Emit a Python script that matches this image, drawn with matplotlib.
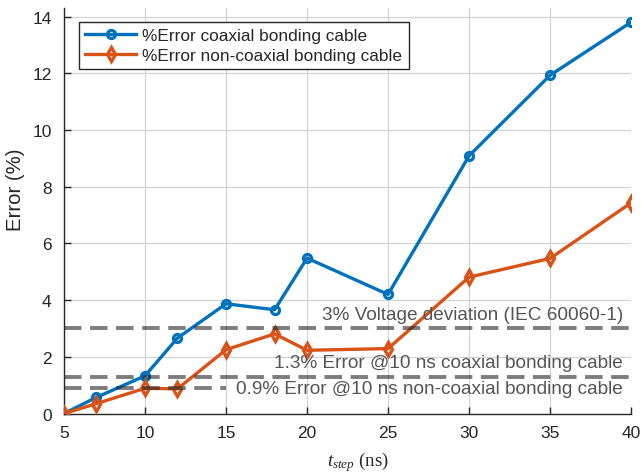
import matplotlib
matplotlib.use("Agg")
import matplotlib.pyplot as plt

# Time step (ns) and percentage error for both cable configurations
t_step = [5, 7, 10, 12, 15, 18, 20, 25, 30, 35, 40]
err_coaxial = [0.0, 0.57, 1.33, 2.66, 3.87, 3.66, 5.48, 4.20, 9.09, 11.93, 13.80]
err_noncoaxial = [0.0, 0.35, 0.89, 0.87, 2.25, 2.81, 2.23, 2.29, 4.81, 5.47, 7.43]

# Reference thresholds and their labels
ref_levels = [3.0, 1.3, 0.9]
ref_labels = [
    "3% Voltage deviation (IEC 60060-1)",
    "1.3% Error @10 ns coaxial bonding cable",
    "0.9% Error @10 ns non-coaxial bonding cable",
]
series_labels = ["%Error coaxial bonding cable", "%Error non-coaxial bonding cable"]
x_ticks = [5, 10, 15, 20, 25, 30, 35, 40]
y_ticks = [0, 2, 4, 6, 8, 10, 12, 14]

BLUE = "#0072BD"
ORANGE = "#D95319"
AXC = "#262626"
REFC = "#262626"

plt.rcParams["font.family"] = ["Liberation Sans", "DejaVu Sans"]
plt.rcParams["mathtext.fontset"] = "custom"
plt.rcParams["mathtext.rm"] = "Liberation Serif"
plt.rcParams["mathtext.it"] = "Liberation Serif:italic"

fig = plt.figure(figsize=(6.42, 4.77), dpi=100)
ax = fig.add_axes([0.0997, 0.131, 0.8833, 0.850])

ax.plot(t_step, err_coaxial, color=BLUE, lw=2.4, marker="o", ms=5.8,
        mfc="none", mec=BLUE, mew=2.3, label=series_labels[0], zorder=3)
ax.plot(t_step, err_noncoaxial, color=ORANGE, lw=2.4, marker="d", ms=7.2,
        mfc="none", mec=ORANGE, mew=2.4, label=series_labels[1], zorder=3)

xmin, xmax = 5, 40
dash = (0, (4.5, 2.2))
# 3% and 1.3% lines span the full width with the label above
for lvl, lab, ty in zip(ref_levels[:2], ref_labels[:2], [3.5, 1.81]):
    ax.plot([xmin, xmax], [lvl, lvl], color=REFC, alpha=0.6, lw=2.8,
            linestyle=dash, zorder=4, dash_capstyle="butt")
    ax.text(39.5, ty, lab, ha="right", va="center", fontsize=13.7,
            color="#555555", zorder=5)
# 0.9% line is broken where its label sits on it
ax.plot([xmin, 15.0], [ref_levels[2]] * 2, color=REFC, alpha=0.6, lw=2.8,
        linestyle=dash, zorder=4, dash_capstyle="butt")
ax.text(39.5, 0.87, ref_labels[2], ha="right", va="center", fontsize=13.7,
        color="#555555", zorder=5)

ax.set_xlim(xmin, xmax)
ax.set_ylim(0, 14.3)
ax.set_xticks(x_ticks)
ax.set_yticks(y_ticks)
ax.grid(True, color="#d4d4d4", lw=0.9)
ax.set_axisbelow(True)
for s in ["top", "right"]:
    ax.spines[s].set_visible(False)
for s in ["left", "bottom"]:
    ax.spines[s].set_color(AXC)
    ax.spines[s].set_linewidth(1.0)
ax.tick_params(direction="in", length=5, width=1.0, colors=AXC, labelsize=12.5)
ax.tick_params(axis="x", pad=8)
ax.tick_params(axis="y", pad=9)

ax.set_ylabel("Error (%)", fontsize=14.7, color=AXC)
ax.yaxis.set_label_coords(-0.069, 0.554)
ax.set_xlabel(r"$t_{step}$ (ns)", fontsize=13.5, color=AXC,
              family="Liberation Serif")
ax.xaxis.set_label_coords(0.518, -0.087)

leg = ax.legend(loc="upper left", bbox_to_anchor=(0.026, 0.965),
                borderaxespad=0, fontsize=12.4, fancybox=False, framealpha=1,
                edgecolor=AXC, handlelength=3.0, borderpad=0.35,
                labelspacing=0.25, handletextpad=0.35)
leg.get_frame().set_linewidth(1.0)
for t in leg.get_texts():
    t.set_color(AXC)

fig.savefig("out.png", dpi=100)
